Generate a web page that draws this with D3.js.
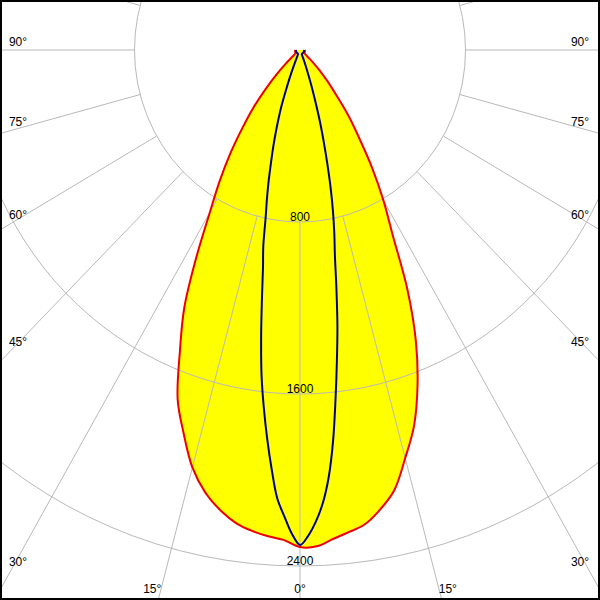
<!DOCTYPE html>
<html>
<head>
<meta charset="utf-8">
<script src="https://cdn.jsdelivr.net/npm/d3@7"></script>
<style>
  html, body { margin: 0; padding: 0; background: #fff; }
  svg { display: block; }
  text { font-family: "Liberation Sans", Arial, sans-serif; font-size: 12px; fill: #000; }
</style>
</head>
<body>
<svg id="chart" width="600" height="600"></svg>
<script>
// ---------- data ----------
// C0-C180 plane (red, filled)
const redAngles = [0, 2, 4, 6, 8, 10, 12.5, 15, 17.5, 20, 22.5, 25, 27.5, 30, 32.5, 35, 37.5, 40, 42.5, 45, 47.5, 50, 55, 60, 70, 80, 90];
const redLeft  = [2312, 2280, 2266, 2248, 2222, 2180, 2110, 2010, 1870, 1729, 1517, 1324, 1083, 871, 723, 587, 458, 353, 245, 160, 90, 45, 28, 25, 25, 24, 22];
const redRight = [2312, 2310, 2280, 2255, 2230, 2180, 2100, 1965, 1833, 1661, 1463, 1228, 970, 805, 647, 496, 383, 270, 195, 135, 80, 45, 28, 25, 25, 24, 22];
// C90-C270 plane (blue)
const blueAngles = [0, 1, 2, 3, 4, 5, 6, 7, 8, 9, 10, 11, 12, 13, 14, 15, 16, 17, 18, 19, 20, 21, 22, 23, 24, 26, 30, 40, 60, 90];
const blueLeft  = [2302, 2250, 2170, 2090, 1957, 1817, 1673, 1525, 1350, 1177, 1030, 930, 800, 710, 625, 541, 470, 400, 336, 272, 200, 140, 85, 50, 30, 22, 20, 20, 20, 20];
const blueRight = [2300, 2260, 2195, 2110, 1991, 1830, 1640, 1462, 1300, 1126, 972, 869, 766, 659, 548, 446, 358, 270, 200, 140, 95, 60, 35, 25, 22, 20, 20, 20, 20, 20];
// grid
const ringValues = [800, 1600, 2400, 3200];
const ringLabels = ["800", "1600", "2400"];
const spokeAngles = d3.range(-180, 180, 15);
const angleLabels = [-90, -75, -60, -45, -30, -15, 0, 15, 30, 45, 60, 75, 90];

// ---------- geometry ----------
const W = 600, H = 600;
const cx = 300, cy = 50;
const sx = d3.scaleLinear().domain([0, 800]).range([0, 165.5]);
const sy = d3.scaleLinear().domain([0, 800]).range([0, 172]);
const rad = d => d * Math.PI / 180;
function pt(angle, I) { // angle in degrees from nadir, negative = left
  return [cx + sx(I) * Math.sin(rad(angle)), cy + sy(I) * Math.cos(rad(angle))];
}
function planePoints(angles, left, right) {
  const pts = [];
  for (let i = angles.length - 1; i >= 0; i--) pts.push(pt(-angles[i], left[i]));
  for (let i = 1; i < angles.length; i++) pts.push(pt(angles[i], right[i]));
  return pts;
}

const svg = d3.select("#chart");
svg.append("defs").append("clipPath").attr("id", "clip")
  .append("rect").attr("x", 0).attr("y", 0).attr("width", W).attr("height", H);
svg.append("rect").attr("width", W).attr("height", H).attr("fill", "#fff");
const g = svg.append("g").attr("clip-path", "url(#clip)");

const line = d3.line().curve(d3.curveCatmullRom.alpha(0.5));
const redPts = planePoints(redAngles, redLeft, redRight);
const bluePts = planePoints(blueAngles, blueLeft, blueRight);

// fill
g.append("path").attr("d", line(redPts) + "Z").attr("fill", "#ffff00").attr("stroke", "none");

// grid
const gridColor = "#b9b9b9";
g.selectAll("ellipse.ring").data(ringValues).join("ellipse")
  .attr("class", "ring")
  .attr("cx", cx).attr("cy", cy)
  .attr("rx", d => sx(d)).attr("ry", d => sy(d))
  .attr("fill", "none").attr("stroke", gridColor).attr("stroke-width", 1);
g.selectAll("line.spoke").data(spokeAngles).join("line")
  .attr("class", "spoke")
  .attr("x1", d => pt(d, 800)[0]).attr("y1", d => pt(d, 800)[1])
  .attr("x2", d => pt(d, 5000)[0]).attr("y2", d => pt(d, 5000)[1])
  .attr("stroke", gridColor).attr("stroke-width", 1);

// curves
g.append("path").attr("d", line(redPts)).attr("fill", "none")
  .attr("stroke", "#ee0000").attr("stroke-width", 2).attr("stroke-linejoin", "round");
g.append("path").attr("d", line(bluePts)).attr("fill", "none")
  .attr("stroke", "#00009a").attr("stroke-width", 2).attr("stroke-linejoin", "round");

// ring labels
g.selectAll("text.rl").data(ringLabels).join("text")
  .attr("class", "rl")
  .attr("x", cx).attr("y", d => cy + sy(+d) - 1.5)
  .attr("text-anchor", "middle").text(d => d);

// angle labels: along spoke, clamped to an inner box
const boxL = 18, boxR = 580, boxB = 588;
angleLabels.forEach(a => {
  const dx = Math.sin(rad(a)) * sx(1), dy = Math.cos(rad(a)) * sy(1);
  let x, y, anchor;
  const tB = (boxB - cy) / dy;
  const xB = cx + dx * tB;
  if (a === 0) { x = cx; y = boxB + 4.5; anchor = "middle"; }
  else if (xB > boxL && xB < boxR) { x = xB; y = boxB + 4.5; anchor = a < 0 ? "end" : "start"; }
  else {
    const xs = a < 0 ? 11 : 589;
    const t = (xs - cx) / dx;
    x = a < 0 ? boxL : boxR; y = cy + dy * t - 4; anchor = "middle";
  }
  g.append("text").attr("x", x).attr("y", y).attr("text-anchor", anchor).text(Math.abs(a) + "°");
});

// frame
svg.append("rect").attr("x", 1).attr("y", 1).attr("width", W - 2).attr("height", H - 2)
  .attr("fill", "none").attr("stroke", "#000").attr("stroke-width", 2);
</script>
</body>
</html>
